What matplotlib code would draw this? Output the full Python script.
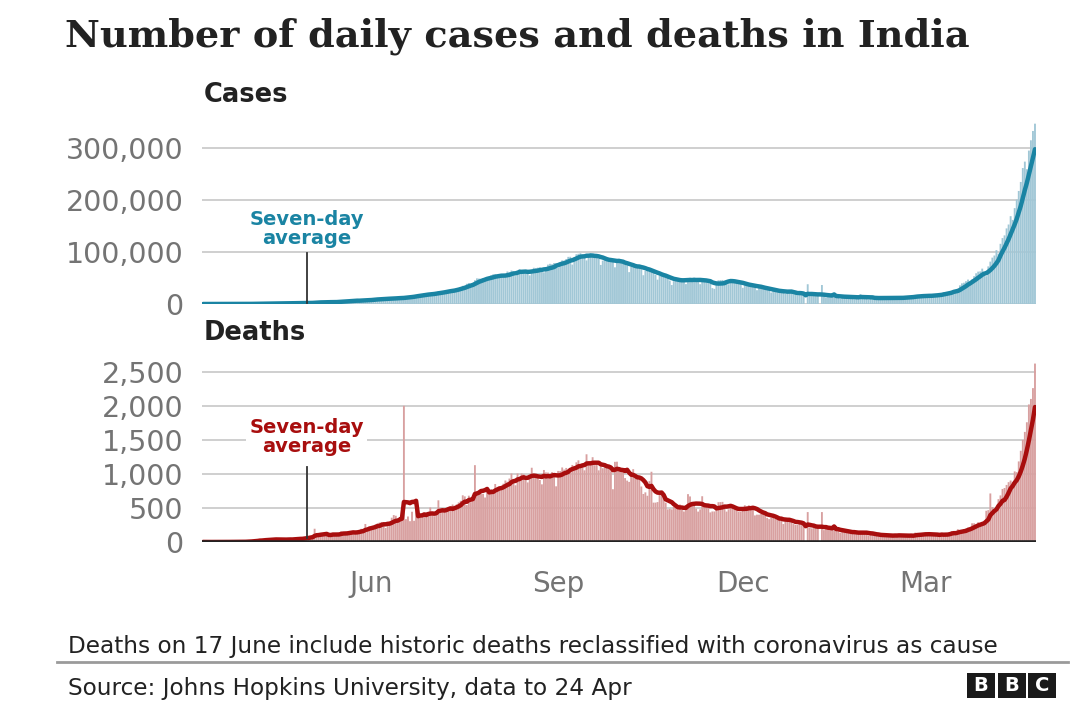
import numpy as np
import pandas as pd
import matplotlib
matplotlib.use("Agg")
import matplotlib.pyplot as plt
import matplotlib.dates as mdates
from matplotlib.ticker import FuncFormatter
from matplotlib.patches import Rectangle

# daily new cases, 10 Mar 2020 - 24 Apr 2021
cases_mar20 = [6, 11, 12, 9, 20, 11, 6, 23, 14, 38, 50, 86, 66, 103, 37, 121, 70, 160, 100, 82, 227, 146]
cases_apr20 = [437, 235, 478, 525, 505, 704, 508, 485, 591, 896, 768, 918, 705, 1463, 1118, 826, 1076, 957,
               1324, 1580, 1239, 1537, 1292, 1667, 1408, 1835, 1607, 1568, 1902, 1705]
cases_may20 = [2396, 2564, 2952, 3656, 2971, 3602, 3344, 3339, 3175, 4311, 3592, 3562, 3726, 3991, 3808, 4794,
               5049, 4628, 6147, 5553, 6088, 6654, 6767, 6977, 6535, 5843, 7293, 7300, 7964, 8380, 8789]
cases_jun20 = [7723, 8821, 9633, 9851, 9887, 10438, 9971, 9987, 9985, 11128, 10956, 11458, 11929, 12034, 11502,
               10667, 13103, 13586, 14516, 15413, 14821, 14933, 15968, 16922, 17296, 18552, 19906, 19459, 18522, 18653]
cases_jul20 = [19148, 20903, 22771, 24850, 24248, 22252, 22752, 24879, 26506, 27114, 28637, 28701, 28498, 29429,
               32695, 34956, 34884, 38902, 40425, 37148, 37724, 45720, 49310, 48916, 48661, 49931, 47703, 48513,
               52123, 55078, 57117]
cases_aug20 = [57118, 54735, 52972, 52050, 52509, 56282, 62538, 61537, 64399, 62064, 53601, 60963, 66999, 64553,
               65002, 63490, 57981, 55079, 64531, 69652, 68898, 69878, 70488, 61408, 60975, 67151, 75760, 77266,
               76472, 78761, 78512]
cases_sep20 = [69921, 78357, 83883, 83341, 86432, 90632, 90802, 75809, 89706, 95735, 96551, 97570, 94372, 92071,
               83809, 90123, 97894, 96424, 93337, 92605, 86961, 75083, 83347, 86508, 86052, 85362, 88600, 82170,
               70589, 80472]
cases_oct20 = [86821, 81484, 79476, 75829, 74442, 61267, 72049, 78524, 70496, 73272, 74383, 66732, 55342, 63509,
               67708, 63371, 62212, 61871, 55722, 46790, 54044, 55839, 53370, 54366, 50129, 45148, 36469, 43893,
               49881, 48648, 48268]
cases_nov20 = [46963, 45231, 38310, 46253, 50209, 47638, 50356, 45674, 45903, 38073, 44281, 47905, 44879, 44878,
               41100, 30548, 29163, 38617, 45576, 45882, 46232, 45209, 44059, 37975, 44376, 44489, 43082, 41322,
               41810, 38772]
cases_dec20 = [31118, 36604, 35551, 36595, 36652, 36011, 32981, 26567, 32080, 31521, 29398, 30006, 30254, 27071,
               22065, 26382, 24010, 22890, 25153, 26624, 24337, 19556, 23950, 24712, 23067, 18732, 20021, 16432,
               20549, 21822, 20035]
cases_jan21 = [0, 38000, 18177, 16504, 18088, 20346, 18139, 0, 36500, 16311, 12584, 15968, 16946, 15590, 15158,
               15144, 13788, 10064, 13823, 15223, 14545, 14256, 14849, 13203, 9102, 12689, 11666, 18855, 13083,
               13052, 11427]
cases_feb21 = [8635, 11039, 12899, 12408, 11713, 12059, 11831, 9110, 11067, 12923, 12194, 12143, 12194, 11649,
               9121, 11610, 12881, 13193, 13993, 14264, 14199, 10584, 13742, 16738, 16577, 16488, 16752, 15510]
cases_mar21 = [12286, 14989, 17407, 16838, 18327, 18711, 18599, 15388, 17921, 22854, 22956, 23285, 24882, 25320,
               26291, 24492, 28903, 35871, 39726, 40953, 43846, 46951, 40715, 47262, 53476, 59118, 62258, 62714,
               68020, 56211, 53480]
cases_apr21 = [72330, 81466, 89129, 93249, 103558, 96982, 115736, 126789, 131968, 145384, 152879, 168912, 161736,
               184372, 200739, 217353, 234692, 261500, 273810, 259170, 295041, 314835, 332730, 346786]

# daily deaths, same days
deaths_mar20 = [1, 0, 1, 0, 0, 0, 1, 0, 1, 1, 0, 3, 1, 3, 1, 4, 5, 4, 2, 0, 6, 3]
deaths_apr20 = [12, 18, 15, 21, 11, 32, 35, 20, 40, 33, 35, 30, 43, 44, 38, 36, 23, 30, 36, 41, 52, 44, 34, 44,
                40, 56, 51, 57, 73, 67]
deaths_may20 = [72, 83, 82, 195, 126, 89, 103, 96, 115, 111, 87, 121, 134, 100, 103, 120, 157, 134, 132, 140, 137,
                148, 142, 146, 146, 170, 194, 175, 265, 193, 230]
deaths_jun20 = [204, 217, 259, 273, 286, 294, 287, 206, 266, 279, 357, 396, 386, 311, 325, 343, 2003, 336, 375,
                306, 445, 312, 465, 418, 407, 384, 410, 380, 418, 507]
deaths_jul20 = [434, 379, 442, 613, 425, 467, 482, 487, 475, 519, 551, 500, 553, 582, 606, 687, 671, 543, 681, 587,
                648, 1130, 740, 757, 705, 708, 654, 768, 775, 779, 764]
deaths_aug20 = [853, 803, 771, 803, 857, 904, 886, 933, 1007, 871, 834, 1007, 942, 1007, 996, 944, 876, 941, 1092,
                977, 983, 945, 912, 848, 1059, 1023, 1021, 944, 1028, 971, 819]
deaths_sep20 = [1045, 1043, 1096, 1065, 1089, 1065, 1016, 1133, 1115, 1172, 1201, 1114, 1136, 1054, 1290, 1132,
                1174, 1247, 1130, 1133, 1054, 1130, 1085, 1129, 1141, 1089, 1039, 776, 1179, 1181]
deaths_oct20 = [1095, 1069, 1069, 940, 903, 884, 971, 1071, 964, 926, 918, 816, 706, 730, 680, 895, 1033, 579, 579,
                587, 717, 703, 650, 578, 480, 488, 480, 517, 551, 490, 551]
deaths_nov20 = [470, 449, 490, 704, 670, 577, 577, 490, 447, 480, 673, 550, 547, 559, 435, 449, 449, 474, 585, 587,
                590, 511, 447, 480, 524, 518, 492, 496, 443, 443]
deaths_dec20 = [482, 540, 526, 540, 512, 482, 391, 402, 402, 413, 442, 442, 355, 336, 355, 355, 341, 347, 331, 340,
                264, 333, 334, 336, 289, 264, 251, 251, 299, 299, 264]
deaths_jan21 = [0, 440, 214, 201, 264, 222, 234, 0, 440, 175, 201, 202, 201, 191, 191, 175, 161, 137, 162, 151, 163,
                152, 127, 131, 131, 137, 123, 163, 163, 125, 120]
deaths_feb21 = [94, 107, 107, 120, 123, 101, 80, 81, 84, 108, 112, 101, 93, 90, 79, 100, 101, 97, 101, 91, 85, 86,
                88, 138, 128, 113, 113, 106]
deaths_mar21 = [106, 98, 138, 113, 108, 101, 97, 77, 131, 126, 117, 117, 140, 161, 118, 131, 188, 172, 154, 188,
                197, 212, 199, 275, 275, 257, 291, 271, 291, 271, 459]
deaths_apr21 = [469, 714, 513, 478, 446, 630, 685, 780, 794, 839, 880, 904, 879, 1038, 1027, 1185, 1341, 1501,
                1619, 1761, 2023, 2104, 2263, 2624]

first_day = "2020-03-10"
month_ticks = ["2020-06-01", "2020-09-01", "2020-12-01", "2021-03-01"]
cases_ticks = [0, 100000, 200000, 300000]
deaths_ticks = [0, 500, 1000, 1500, 2000, 2500]

cases = np.concatenate([cases_mar20, cases_apr20, cases_may20, cases_jun20, cases_jul20, cases_aug20,
                        cases_sep20, cases_oct20, cases_nov20, cases_dec20, cases_jan21, cases_feb21,
                        cases_mar21, cases_apr21])
deaths = np.concatenate([deaths_mar20, deaths_apr20, deaths_may20, deaths_jun20, deaths_jul20, deaths_aug20,
                         deaths_sep20, deaths_oct20, deaths_nov20, deaths_dec20, deaths_jan21, deaths_feb21,
                         deaths_mar21, deaths_apr21])
days = pd.date_range(first_day, periods=len(cases), freq="D")
cases_avg = pd.Series(cases, index=days).rolling(7, min_periods=1).mean()
deaths_avg = pd.Series(deaths, index=days).rolling(7, min_periods=1).mean()

blue_bar, blue_line = "#a1c7d6", "#1a84a3"
red_bar, red_line = "#d8a0a0", "#a80e0e"
grey_txt = "#747474"
grid_col = "#cfcfcf"

plt.rcParams["font.family"] = ["DejaVu Sans"]

fig = plt.figure(figsize=(10.8, 7.2), dpi=100)
ax_c = fig.add_axes([202 / 1080, 1 - 304 / 720, 834 / 1080, 182 / 720])
ax_d = fig.add_axes([202 / 1080, 1 - 542 / 720, 834 / 1080, 183.6 / 720])

xlim = (days[0] - pd.Timedelta(hours=12), days[-1] + pd.Timedelta(hours=12))


def style(ax, ticks, top, fmt):
    ax.set_xlim(*xlim)
    ax.set_ylim(0, top)
    ax.set_yticks(ticks)
    ax.yaxis.set_major_formatter(FuncFormatter(fmt))
    ax.grid(axis="y", color=grid_col, lw=1.4, zorder=0)
    ax.set_axisbelow(True)
    for s in ax.spines.values():
        s.set_visible(False)
    ax.tick_params(axis="y", length=0, pad=13.5, labelsize=20.5, labelcolor=grey_txt)
    ax.tick_params(axis="x", length=0)


style(ax_c, cases_ticks, 350000, lambda v, p: f"{int(v):,}")
style(ax_d, deaths_ticks, 2700, lambda v, p: f"{int(v):,}")

bars_c = ax_c.bar(days, cases, width=0.92, color=blue_bar, linewidth=0, zorder=1)
ax_c.plot(days, cases_avg, color=blue_line, lw=3.2, zorder=3, solid_capstyle="round")
ax_c.set_xticks([])

bars_d = ax_d.bar(days, deaths, width=0.92, color=red_bar, linewidth=0, zorder=1)
ax_d.plot(days, deaths_avg, color=red_line, lw=3.2, zorder=3, solid_capstyle="round")
ax_d.axhline(0, color="#222222", lw=2.6, zorder=4)
ax_d.set_xticks(pd.to_datetime(month_ticks))
ax_d.xaxis.set_major_formatter(mdates.DateFormatter("%b"))
ax_d.tick_params(axis="x", pad=20, labelsize=20, labelcolor=grey_txt)
for b in list(bars_c) + list(bars_d):
    b.set_snap(False)

# seven-day average labels
note_day = pd.Timestamp("2020-04-30")
ax_c.text(note_day, 144000, "Seven-day\naverage", ha="center", va="center", fontsize=14, fontweight="bold",
          color=blue_line, linespacing=1.0, zorder=5,
          bbox=dict(boxstyle="square,pad=0.15", fc="white", ec="none"))
ax_c.plot([note_day, note_day], [cases_avg[note_day], 98000], color="#333333", lw=1.3, zorder=4)

ax_d.text(note_day, 1545, "Seven-day\naverage", ha="center", va="center", fontsize=14, fontweight="bold",
          color=red_line, linespacing=1.0, zorder=5,
          bbox=dict(boxstyle="square,pad=0.15", fc="white", ec="none"))
ax_d.plot([note_day, note_day], [deaths_avg[note_day], 1100], color="#333333", lw=1.3, zorder=4)

# titles
fig.text(65 / 1080, 1 - 36 / 720, "Number of daily cases and deaths in India", family="DejaVu Serif",
         fontsize=27.5, fontweight="bold", color="#222222", va="center", ha="left")
fig.text(204 / 1080, 1 - 95 / 720, "Cases", fontsize=18.5, fontweight="bold", color="#222222", va="center")
fig.text(204 / 1080, 1 - 333 / 720, "Deaths", fontsize=18.5, fontweight="bold", color="#222222", va="center")

# footer
fig.text(68 / 1080, 1 - 646 / 720, "Deaths on 17 June include historic deaths reclassified with coronavirus as cause",
         fontsize=16.7, color="#222222", va="center")
fig.add_artist(plt.Line2D([57 / 1080, 1068 / 1080], [1 - 662 / 720, 1 - 662 / 720], color="#9a9a9a", lw=2))
fig.text(68 / 1080, 1 - 688 / 720, "Source: Johns Hopkins University, data to 24 Apr", fontsize=16.7,
         color="#222222", va="center")
for i, letter in enumerate("BBC"):
    x0 = (967 + i * 30.5) / 1080
    fig.add_artist(Rectangle((x0, 1 - 698 / 720), 28 / 1080, 25 / 720, transform=fig.transFigure,
                             fc="#1a1a1a", ec="none"))
    fig.text(x0 + 14 / 1080, 1 - 685.5 / 720, letter, fontsize=14, fontweight="bold", color="white",
             ha="center", va="center")

fig.savefig("out.png", dpi=100, facecolor="white")
